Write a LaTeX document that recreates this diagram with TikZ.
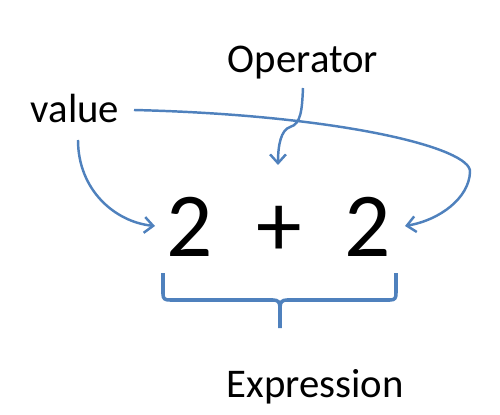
\documentclass[tikz,border=0pt]{standalone}
\usepackage{fontspec}
\setmainfont{Carlito}
\usetikzlibrary{arrows.meta}
\definecolor{linkcolor}{HTML}{4F81BD}

\begin{document}
\begin{tikzpicture}[x=0.02cm,y=-0.02cm,
    label/.style={font=\fontsize{23.2}{27}\selectfont,inner sep=0pt,anchor=base},
    term/.style={font=\fontsize{52}{60}\selectfont,inner sep=0pt,anchor=base},
    link/.style={line width=1.4pt,linkcolor,-{Straight Barb[length=5pt,width=9pt]}}]
  \useasboundingbox (0,0) rectangle (500,415);
  % texts
  \node[label] (value) at (75,123) {value};
  \node[label] (op) at (303,73) {Operator};
  \node[label] (expr) at (315,397) {Expression};
  % the expression
  \node[term] (twoA) at (190,256) {2};
  \node[term] (plus) at (279,256) {+};
  \node[term] (twoB) at (368,256) {2};
  % free ends of the arrows
  \coordinate (optip) at (278,165);
  \coordinate (tipA) at (155,226);
  \coordinate (tipB) at (405,226);
  % value -> first 2
  \draw[link] ([shift={(3,17)}]value.base) .. controls (78,190) and (115,222) .. (tipA);
  % value -> second 2
  \draw[link] ([shift={(59,-13)}]value.base) .. controls (340,115) and (472,148) .. (470,172)
    .. controls (469,198) and (440,220) .. (tipB);
  % operator -> plus
  \draw[link] ([shift={(0,15)}]op.base) .. controls (302,110) and (301,124) .. (290,127)
    .. controls (281,130) and (278,145) .. (optip);
  % brace under the expression
  \draw[line width=2pt,linkcolor,line join=round]
    (163,273) -- (163,294) .. controls (163,299) and (165,300) .. (170,300) -- (273,300)
    .. controls (278,300) and (280,302) .. (280,308) -- (280,328)
    (280,308) .. controls (280,302) and (282,300) .. (287,300) -- (390,300)
    .. controls (395,300) and (396,298) .. (396,293) -- (396,273);
\end{tikzpicture}
\end{document}
